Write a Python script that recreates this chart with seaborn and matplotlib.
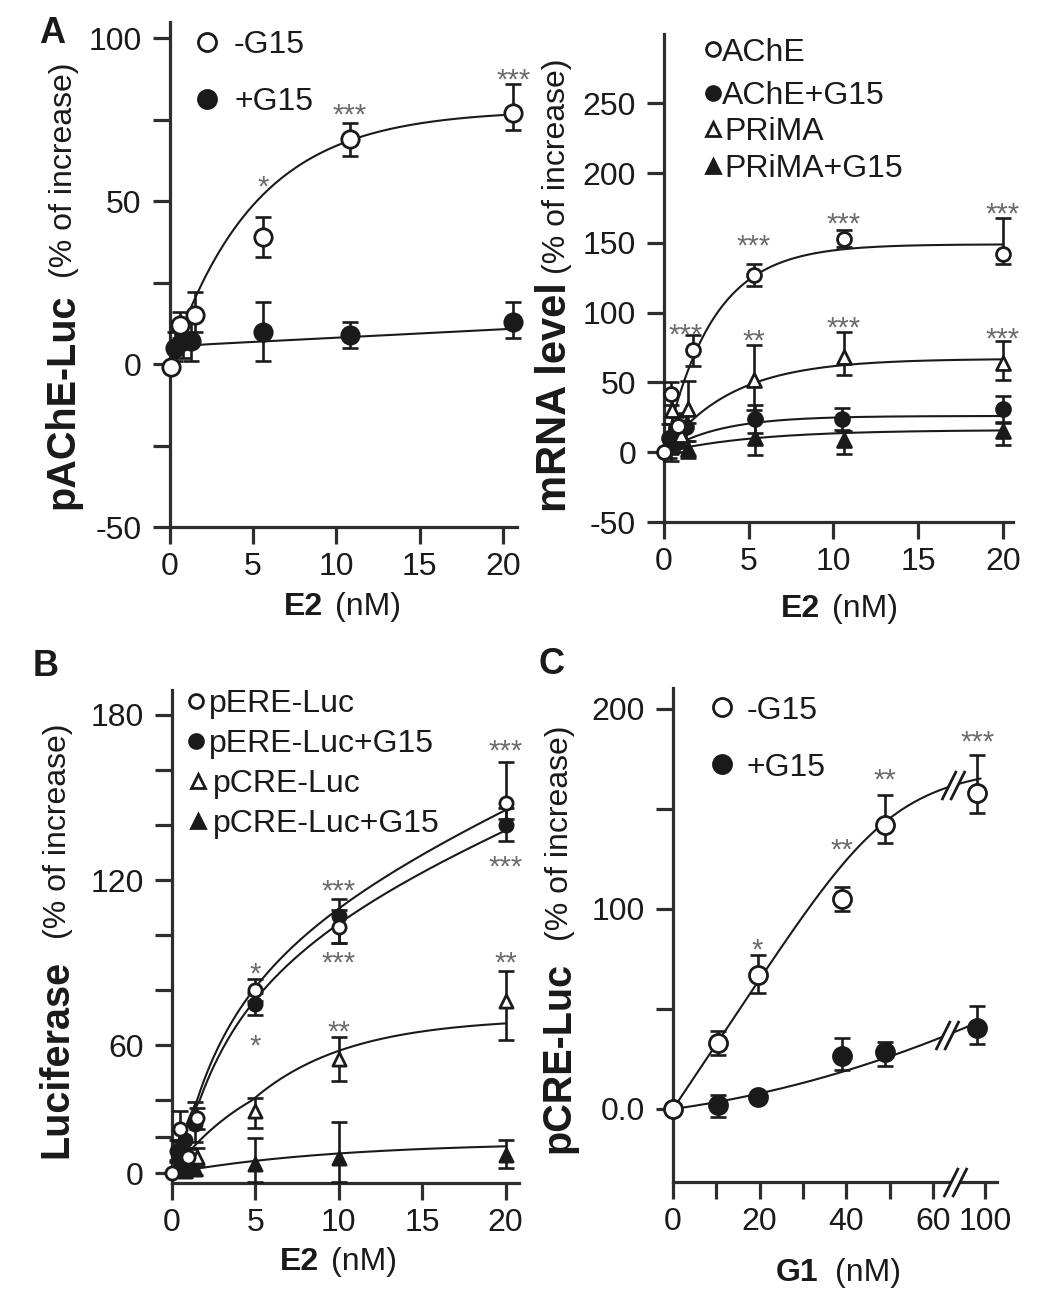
import numpy as np
import matplotlib
matplotlib.use("Agg")
import matplotlib.pyplot as plt
import seaborn as sns
from matplotlib.lines import Line2D
from matplotlib.path import Path

sns.set_theme(style="ticks")
plt.rcParams["font.family"] = ["Liberation Sans", "DejaVu Sans"]
plt.rcParams["axes.unicode_minus"] = False

W, H = 1040, 1300
INK = "#1a1a1a"
AXC = "#2e2e2e"
STAR = "#6a6a6a"

# ---------------- Panel A (left): pAChE-Luc ----------------
a1_neg_x = [0.1, 0.6, 1.5, 5.6, 10.8, 20.6]
a1_neg_y = [-1, 12, 15, 39, 69, 77]
a1_neg_lo = [0, 4, 5, 6, 5, 5]
a1_neg_hi = [0, 4, 7, 6, 5, 9]
a1_pos_x = [0.3, 0.8, 1.3, 5.6, 10.8, 20.6]
a1_pos_y = [5, 7, 7, 10, 9, 13]
a1_pos_lo = [4, 5, 6, 9, 4, 5]
a1_pos_hi = [5, 6, 6, 9, 4, 6]
a1_fit_neg = (78, 0.196, 0.0)      # one-phase association: top, k, slope
a1_fit_pos = (5.5, 2.5, 0.26)
a1_stars = [(5.6, 57, "*"), (10.8, 79, "***"), (20.6, 90, "***")]

# ---------------- Panel A (right): mRNA level ----------------
ache_x = [0, 0.4, 0.8, 1.7, 5.3, 10.6, 20]
ache_y = [0, 42, 19, 73, 127, 153, 142]
ache_lo = [0, 8, 8, 11, 8, 6, 7]
ache_hi = [0, 8, 8, 11, 8, 6, 26]
acheg_x = [0.3, 0.7, 1.3, 5.4, 10.5, 20]
acheg_y = [10, 15, 18, 24, 24, 31]
acheg_lo = [14, 10, 10, 10, 8, 10]
acheg_hi = [10, 10, 10, 10, 8, 9]
prima_x = [0.5, 1.0, 1.4, 5.3, 10.6, 20]
prima_y = [30, 12, 31, 52, 68, 64]
prima_lo = [10, 8, 10, 22, 13, 12]
prima_hi = [12, 8, 20, 25, 18, 16]
primag_x = [0.4, 0.9, 1.4, 5.4, 10.6, 20]
primag_y = [4, 8, 2, 10, 9, 15]
primag_lo = [10, 8, 6, 12, 10, 10]
primag_hi = [8, 8, 6, 14, 6, 7]
a2_fit_ache = (149, 0.353, 0.0)
a2_fit_acheg = (26, 0.31, 0.0)
a2_fit_prima = (67, 0.253, 0.0)
a2_fit_primag = (16, 0.185, 0.0)
a2_stars = [(1.3, 90, "***"), (5.3, 154, "***"), (10.6, 170, "***"), (20, 177, "***"),
            (5.3, 86, "**"), (10.6, 95, "***"), (20, 87, "***")]

# ---------------- Panel B: Luciferase ----------------
ere_x = [0, 0.5, 1.0, 1.5, 5, 10, 20]
ere_y = [0, 24, 9, 30, 80, 103, 148]
ere_lo = [0, 6, 5, 6, 4, 6, 6]
ere_hi = [0, 10, 5, 6, 4, 6, 15]
ereg_x = [0.3, 0.8, 1.4, 5, 10, 20]
ereg_y = [12, 18, 27, 75, 107, 140]
ereg_lo = [6, 8, 10, 4, 10, 6]
ereg_hi = [6, 8, 12, 4, 6, 6]
cre_x = [0.5, 1.0, 1.5, 5, 10, 20]
cre_y = [12, 8, 9, 34, 55, 76]
cre_lo = [5, 5, 5, 9, 8, 14]
cre_hi = [5, 5, 5, 7, 8, 11]
creg_x = [0.3, 0.8, 1.4, 5, 10, 20]
creg_y = [3, 1, 2, 5, 8, 10]
creg_lo = [3, 3, 3, 10, 13, 7]
creg_hi = [4, 4, 4, 14, 20, 8]
b_fit_ere = (113, 3.2, 2.4)        # hyperbola: top, K, slope
b_fit_ereg = (110, 3.4, 2.2)
b_fit_cre = (70, 0.176, 0.0)       # one-phase association
b_fit_creg = (17, 0.10, 0.0)
b_stars = [(5, 89, "*"), (5, 63, "*"), (10, 119, "***"), (10, 93, "***"),
           (20, 170, "***"), (20, 128, "***"), (10, 68, "**"), (20, 93, "**")]

# ---------------- Panel C: pCRE-Luc vs G1 ----------------
c_neg_x = [0, 10.4, 19.5, 39, 49, 94]
c_neg_y = [0, 33, 67, 105, 142, 158]
c_neg_lo = [0, 6, 9, 6, 9, 10]
c_neg_hi = [0, 6, 10, 6, 15, 19]
c_pos_x = [10.4, 19.5, 39, 49, 94]
c_pos_y = [2, 6, 26.5, 28.5, 40.6]
c_pos_lo = [6, 2, 7, 7, 8]
c_pos_hi = [5, 2, 9, 5, 11]
c_fit_neg = (3.25, 53, 5)          # soft-saturating line (in broken-axis units)
c_fit_pos = (0.3, 0.0045)          # quadratic
c_stars = [(19.5, 84, "*"), (39, 134, "**"), (49, 169, "**"), (94, 188, "***")]


# ---------------- helpers ----------------
def assoc(x, p):
    top, k, s = p
    return top * (1 - np.exp(-k * x)) + s * x


def hyper(x, p):
    top, K, s = p
    return top * x / (K + x) + s * x


fig = plt.figure(figsize=(W / 100, H / 100), dpi=100)


def add_axes(l, t, r, b):
    return fig.add_axes([l / W, 1 - b / H, (r - l) / W, (b - t) / H])


def style(ax):
    sns.despine(ax=ax)
    ax.set_facecolor("none")
    ax.grid(False)
    for s in ["left", "bottom"]:
        ax.spines[s].set_linewidth(2.3)
        ax.spines[s].set_color(AXC)
    ax.tick_params(direction="out", length=12, width=2.3, color=AXC,
                   labelsize=23, labelcolor=INK)
    ax.tick_params(axis="x", pad=6)
    ax.tick_params(axis="y", pad=8)


def series(ax, x, y, lo, hi, marker, filled, ms):
    ax.errorbar(x, y, yerr=[lo, hi], fmt="none", ecolor=INK, elinewidth=1.9,
                capsize=5.8, capthick=1.9, zorder=3, clip_on=False)
    sns.scatterplot(x=x, y=y, ax=ax, marker=marker, s=ms ** 2,
                    color=INK if filled else "white", edgecolor=INK,
                    linewidth=2.0, zorder=4, clip_on=False, legend=False)


def curve(ax, xs, ys):
    sns.lineplot(x=xs, y=ys, ax=ax, color=INK, linewidth=1.5, sort=False,
                 estimator=None, zorder=2)


def stars(ax, items):
    for x, y, s in items:
        ax.annotate(s, (x, y), xytext=(0, -12.4), textcoords="offset points",
                    ha="center", va="baseline", fontsize=21, color=STAR,
                    annotation_clip=False)


def ftext(x, y, s, **kw):
    fig.text(x / W, 1 - y / H, s, color=INK, **kw)


def leg(xm, y, marker, filled, ms, label, xt, fs=23):
    fig.add_artist(Line2D([xm / W], [1 - y / H], transform=fig.transFigure,
                          marker=marker, markersize=ms,
                          markerfacecolor=INK if filled else "white",
                          markeredgecolor=INK, markeredgewidth=2.0, ls="none"))
    ftext(xt, y + 0.358 * fs * 1.389, label, ha="left", va="baseline", fontsize=fs)


def ylabel(xb, yc_bold, bold, yc_norm, fsb=28.5, fsn=23):
    fig.text(xb / W, 1 - yc_bold / H, bold, rotation=90, rotation_mode="anchor",
             ha="center", va="baseline", fontsize=fsb, fontweight="bold", color=INK)
    fig.text((xb - 1) / W, 1 - yc_norm / H, "(% of increase)", rotation=90,
             rotation_mode="anchor", ha="center", va="baseline", fontsize=fsn, color=INK)


def xlabel(xr_bold, xl_norm, yc, bold, fs=23):
    ftext(xr_bold, yc + 10, bold, ha="right", va="baseline", fontsize=fs, fontweight="bold")
    ftext(xl_norm, yc + 10, "(nM)", ha="left", va="baseline", fontsize=fs)


# ================= Panel A left =================
ax1 = add_axes(169.5, 22, 516.5, 527)
style(ax1)
xx = np.linspace(0, 20.6, 300)
curve(ax1, xx, assoc(xx, a1_fit_neg))
xp = np.linspace(0.15, 20.6, 300)
curve(ax1, xp, assoc(xp, a1_fit_pos))
series(ax1, a1_pos_x, a1_pos_y, a1_pos_lo, a1_pos_hi, "o", True, 12.5)
series(ax1, a1_neg_x, a1_neg_y, a1_neg_lo, a1_neg_hi, "o", False, 12.5)
stars(ax1, a1_stars)
ax1.set_xlim(0, 20.8)
ax1.set_ylim(-50, 105)
ax1.set_xticks([0, 5, 10, 15, 20])
ax1.set_yticks([-50, -25, 0, 25, 50, 75, 100])
ax1.set_yticklabels(["-50", "", "0", "", "50", "", "100"])
ax1.set_xlabel("")
ax1.set_ylabel("")

# ================= Panel A right =================
ax2 = add_axes(664, 33.6, 1013, 522)
style(ax2)
xx = np.linspace(0, 20, 300)
curve(ax2, xx, assoc(xx, a2_fit_ache))
curve(ax2, xx, assoc(xx, a2_fit_prima))
curve(ax2, xx, assoc(xx, a2_fit_acheg))
curve(ax2, xx, assoc(xx, a2_fit_primag))
series(ax2, primag_x, primag_y, primag_lo, primag_hi, "^", True, 10)
series(ax2, acheg_x, acheg_y, acheg_lo, acheg_hi, "o", True, 10)
series(ax2, prima_x, prima_y, prima_lo, prima_hi, "^", False, 10)
series(ax2, ache_x, ache_y, ache_lo, ache_hi, "o", False, 10)
stars(ax2, a2_stars)
ax2.set_xlim(0, 20.6)
ax2.set_ylim(-50, 300)
ax2.set_xticks([0, 5, 10, 15, 20])
ax2.set_yticks([-50, 0, 50, 100, 150, 200, 250])
ax2.set_xlabel("")
ax2.set_ylabel("")

# ================= Panel B =================
def b_fwd(y):
    y = np.asarray(y, dtype=float)
    return np.where(y >= 40, y, 40 - (40 - y) * 0.66)


def b_inv(y):
    y = np.asarray(y, dtype=float)
    return np.where(y >= 40, y, 40 - (40 - y) / 0.66)


ax3 = add_axes(171.7, 690, 519, 1183)
style(ax3)
ax3.set_yscale("function", functions=(b_fwd, b_inv))
xx = np.linspace(0, 20, 300)
curve(ax3, xx, hyper(xx, b_fit_ere))
curve(ax3, xx, hyper(xx, b_fit_ereg))
curve(ax3, xx, assoc(xx, b_fit_cre))
curve(ax3, xx, assoc(xx, b_fit_creg))
series(ax3, creg_x, creg_y, creg_lo, creg_hi, "^", True, 9.5)
series(ax3, cre_x, cre_y, cre_lo, cre_hi, "^", False, 9.5)
series(ax3, ereg_x, ereg_y, ereg_lo, ereg_hi, "o", True, 9.5)
series(ax3, ere_x, ere_y, ere_lo, ere_hi, "o", False, 9.5)
stars(ax3, b_stars)
ax3.set_xlim(0, 20.8)
ax3.set_ylim(-5.5, 189)
ax3.set_xticks([0, 5, 10, 15, 20])
b_ticks = list(range(0, 181, 20))
ax3.set_yticks(b_ticks)
ax3.set_yticklabels([str(t) if t % 60 == 0 else "" for t in b_ticks])
ax3.minorticks_off()
ax3.set_xlabel("")
ax3.set_ylabel("")

# ================= Panel C =================
R = 0.3


def c_fwd(x):
    x = np.asarray(x, dtype=float)
    return np.where(x <= 60, x, 60 + (x - 60) * R)


def c_inv(u):
    u = np.asarray(u, dtype=float)
    return np.where(u <= 60, u, 60 + (u - 60) / R)


def c_neg_curve(u):
    a, c, m = c_fit_neg
    return a * u / (1 + (u / c) ** m) ** (1 / m)


def c_pos_curve(u):
    b1, b2 = c_fit_pos
    return b1 * u + b2 * u ** 2


ax4 = add_axes(673, 688, 996.7, 1182)
style(ax4)
ax4.set_xscale("function", functions=(c_fwd, c_inv))
uu = np.linspace(0, 71, 300)
curve(ax4, c_inv(uu), c_neg_curve(uu))
curve(ax4, c_inv(uu), c_pos_curve(uu))
series(ax4, c_pos_x, c_pos_y, c_pos_lo, c_pos_hi, "o", True, 13)
series(ax4, c_neg_x, c_neg_y, c_neg_lo, c_neg_hi, "o", False, 13)
stars(ax4, c_stars)
ax4.set_xlim(0, float(c_inv(74.7)))
ax4.set_ylim(-36.5, 210.5)
c_xt = [0, 10, 20, 30, 40, 50, 60, 100]
ax4.set_xticks(c_xt)
ax4.set_xticklabels(["0", "", "20", "", "40", "", "60", "100"])
ax4.set_yticks([0, 50, 100, 150, 200])
ax4.set_yticklabels(["0.0", "", "100", "", "200"])
ax4.minorticks_off()
ax4.set_xlabel("")
ax4.set_ylabel("")

# break marks
brk_white = Path([(-0.8, -1), (0.2, 1), (0.8, 1), (-0.2, -1), (-0.8, -1)],
                 [Path.MOVETO, Path.LINETO, Path.LINETO, Path.LINETO, Path.CLOSEPOLY])
brk_lines = Path([(-0.8, -1), (0.2, 1), (-0.2, -1), (0.8, 1)],
                 [Path.MOVETO, Path.LINETO, Path.MOVETO, Path.LINETO])
for u, y in [(65, -36.5), (64.7, float(c_neg_curve(64.7))), (63.2, float(c_pos_curve(63.2)))]:
    xr = float(c_inv(u))
    ax4.plot([xr], [y], marker=brk_white, markersize=21, markerfacecolor="white",
             markeredgecolor="none", ls="none", zorder=5, clip_on=False)
    ax4.plot([xr], [y], marker=brk_lines, markersize=21, markeredgecolor=INK,
             markeredgewidth=2.0, ls="none", zorder=6, clip_on=False)

# ================= labels / legends =================
ylabel(73, 401, "pAChE-Luc", 170)
ylabel(566, 397, "mRNA level", 166, fsb=30)
ylabel(67, 1059, "Luciferase", 831)
ylabel(569, 1057, "pCRE-Luc", 833)

xlabel(323, 335, 605, "E2")
xlabel(820, 832, 607, "E2")
xlabel(318.5, 330.6, 1260, "E2")
xlabel(818.3, 835, 1271, "G1")

for x, y, s in [(52.5, 30, "A"), (45.6, 663, "B"), (551.7, 661, "C")]:
    ftext(x, y + 13, s, ha="center", va="baseline", fontsize=26, fontweight="bold")

leg(206.6, 41.5, "o", False, 13, "-G15", 234)
leg(206.6, 98.9, "o", True, 13, "+G15", 234)

leg(713.3, 49.4, "o", False, 10, "AChE", 722)
leg(713.3, 92.9, "o", True, 10, "AChE+G15", 722)
leg(713.3, 128.5, "^", False, 9.5, "PRiMA", 724)
leg(713.3, 166, "^", True, 9.5, "PRiMA+G15", 724)

leg(196.3, 701, "o", False, 10, "pERE-Luc", 209)
leg(196.3, 741, "o", True, 10, "pERE-Luc+G15", 209)
leg(197.5, 781, "^", False, 9.5, "pCRE-Luc", 213)
leg(197.5, 821, "^", True, 9.5, "pCRE-Luc+G15", 213)

leg(721.7, 707.3, "o", False, 13, "-G15", 746.7)
leg(721.7, 764.2, "o", True, 13, "+G15", 746.7)

fig.savefig("out.png", dpi=100, facecolor="white")
